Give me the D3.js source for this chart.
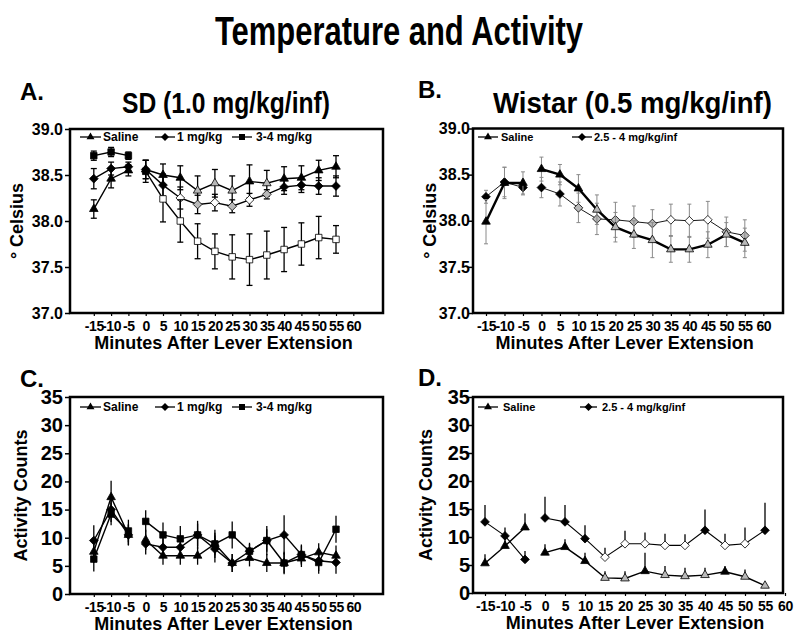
<!DOCTYPE html>
<html>
<head>
<meta charset="utf-8">
<script src="https://cdn.jsdelivr.net/npm/d3@7"></script>
<style>
  body { margin: 0; background: #fff; }
  text { font-family: "Liberation Sans", Arial, sans-serif; font-weight: bold; fill: #000; }
</style>
</head>
<body>
<svg id="chart" width="800" height="638"></svg>
<script>

var minutes = [-15, -10, -5, 0, 5, 10, 15, 20, 25, 30, 35, 40, 45, 50, 55];
var xTicks = [-15, -10, -5, 0, 5, 10, 15, 20, 25, 30, 35, 40, 45, 50, 55, 60];
var tempTicks = [37.0, 37.5, 38.0, 38.5, 39.0];
var actTicks = [0, 5, 10, 15, 20, 25, 30, 35];

// sig: 0 = not different, 1 = grey marker, 2 = open marker (as in the figure)

// A. SD temperature
var sdTempSaline    = [38.13, 38.46, 38.55, 38.56, 38.50, 38.47, 38.33, 38.41, 38.33, 38.43, 38.41, 38.46, 38.47, 38.55, 38.59];
var sdTempSalineErr = [0.10, 0.10, 0.06, 0.10, 0.12, 0.13, 0.16, 0.15, 0.16, 0.18, 0.14, 0.13, 0.13, 0.11, 0.12];
var sdTempSalineSig = [0, 0, 0, 0, 0, 0, 1, 1, 1, 0, 1, 0, 0, 0, 0];
var sdTempLow       = [38.46, 38.57, 38.59, 38.56, 38.39, 38.25, 38.18, 38.20, 38.16, 38.23, 38.29, 38.37, 38.39, 38.38, 38.38];
var sdTempLowErr    = [0.11, 0.07, 0.05, 0.10, 0.12, 0.12, 0.10, 0.09, 0.07, 0.07, 0.05, 0.08, 0.08, 0.09, 0.11];
var sdTempLowSig    = [0, 0, 0, 0, 0, 2, 1, 2, 1, 2, 1, 0, 0, 0, 0];
var sdTempHigh      = [38.71, 38.75, 38.71, 38.54, 38.24, 38.00, 37.78, 37.67, 37.61, 37.58, 37.63, 37.69, 37.75, 37.82, 37.80];
var sdTempHighErr   = [0.05, 0.05, 0.04, 0.12, 0.25, 0.23, 0.19, 0.19, 0.24, 0.28, 0.26, 0.24, 0.23, 0.23, 0.15];
var sdTempHighSig   = [0, 0, 0, 0, 2, 2, 2, 2, 2, 2, 2, 2, 2, 2, 2];

// B. Wistar temperature
var wiTempSaline    = [37.99, 38.41, 38.41, 38.56, 38.50, 38.35, 38.12, 37.93, 37.85, 37.79, 37.69, 37.69, 37.74, 37.85, 37.76];
var wiTempSalineErr = [0.24, 0.17, 0.12, 0.13, 0.11, 0.15, 0.16, 0.16, 0.15, 0.19, 0.14, 0.14, 0.14, 0.13, 0.16];
var wiTempSalineSig = [0, 0, 0, 0, 0, 0, 1, 1, 1, 1, 1, 1, 1, 1, 1];
var wiTempDrug      = [38.26, 38.42, 38.36, 38.36, 38.29, 38.14, 38.02, 38.01, 37.99, 37.97, 38.01, 38.00, 38.01, 37.88, 37.84];
var wiTempDrugErr   = [0.07, 0.16, 0.08, 0.11, 0.13, 0.16, 0.17, 0.19, 0.17, 0.15, 0.17, 0.18, 0.20, 0.16, 0.17];
var wiTempDrugSig   = [0, 0, 0, 0, 0, 1, 1, 1, 1, 1, 2, 2, 2, 1, 1];

// C. SD activity
var sdActSaline     = [7.5, 17.2, 10.5, 9.6, 6.8, 6.8, 6.8, 8.9, 5.5, 6.4, 5.5, 5.5, 6.3, 7.4, 6.8];
var sdActSalineErr  = [2.0, 2.9, 1.8, 1.8, 1.6, 1.6, 1.6, 2.0, 1.6, 1.5, 1.6, 2.0, 1.5, 1.6, 1.8];
var sdActLow        = [9.5, 15.0, 10.5, 8.9, 8.3, 8.3, 10.5, 8.0, 5.5, 7.6, 9.5, 10.5, 7.0, 5.9, 5.6];
var sdActLowErr     = [2.7, 2.2, 1.9, 1.9, 1.6, 1.8, 2.0, 2.4, 1.6, 1.3, 2.0, 3.5, 1.6, 1.8, 2.0];
var sdActHigh       = [6.2, 14.2, 11.2, 12.9, 10.5, 9.8, 10.5, 8.9, 10.5, 7.6, 9.5, 5.5, 7.0, 5.6, 11.5];
var sdActHighErr    = [2.2, 2.0, 2.0, 2.0, 2.2, 2.3, 2.5, 2.5, 2.4, 1.5, 2.6, 1.8, 1.8, 2.0, 2.4];
var zeros           = [0, 0, 0, 0, 0, 0, 0, 0, 0, 0, 0, 0, 0, 0, 0];

// D. Wistar activity
var wiActSaline     = [5.3, 8.4, 11.7, 7.2, 8.2, 5.7, 2.7, 2.6, 3.9, 3.2, 3.0, 3.2, 3.8, 2.9, 1.3];
var wiActSalineErr  = [1.6, 1.9, 2.5, 1.5, 1.4, 1.5, 1.2, 1.3, 3.3, 1.6, 1.5, 1.3, 1.0, 1.3, 0.6];
var wiActSalineSig  = [0, 0, 0, 0, 0, 0, 1, 1, 0, 1, 1, 1, 0, 1, 1];
var wiActDrug       = [12.7, 10.2, 6.0, 13.4, 12.7, 9.7, 6.4, 8.8, 8.8, 8.5, 8.5, 11.2, 8.5, 8.8, 11.2];
var wiActDrugErr    = [3.0, 1.5, 1.5, 3.8, 3.0, 2.4, 1.7, 2.3, 2.0, 2.1, 2.0, 3.7, 2.1, 2.9, 4.9];
var wiActDrugSig    = [0, 0, 0, 0, 0, 0, 2, 2, 2, 2, 2, 0, 2, 2, 0];

var sdLegend = ["Saline", "1 mg/kg", "3-4 mg/kg"];
var wiLegend = ["Saline", "2.5 - 4 mg/kg/inf"];

// square diamond (d3's own diamond is tall and thin)
var symbolRhomb = {
    draw: function(ctx, size) {
        var r = Math.sqrt(size / 2);
        ctx.moveTo(0, -r);
        ctx.lineTo(r, 0);
        ctx.lineTo(0, r);
        ctx.lineTo(-r, 0);
        ctx.closePath();
    }
};

var FILLS = ["#000", "#b9b9b9", "#fff"];
var SHAPES = {tri: d3.symbolTriangle, dia: symbolRhomb, sq: d3.symbolSquare};
var SIZES = {tri: 32, dia: 38, sq: 42};

var svg = d3.select("#chart");

svg.append("text")
    .attr("x", 215).attr("y", 45)
    .attr("textLength", 368).attr("lengthAdjust", "spacingAndGlyphs")
    .style("font-size", "41px")
    .text("Temperature and Activity");

var panels = [
    {letter: "A.", lx: 20, ly: 100, sub: "SD (1.0 mg/kg/inf)", sx: 122, sw: 208,
     box: [70, 129, 383, 313], xr: [93.8, 353.3], yd: [37, 39], ticks: tempTicks, fmt: ".1f", tickFont: 16, tickPad: 2,
     ylab: "° Celsius", ylabX: 23, errMode: "both", cap: 3, errColor: "#000",
     legendY: 137, legendFont: 12,
     legend: [{lab: sdLegend[0], shape: "tri", x0: 80, x1: 101, tx: 103},
              {lab: sdLegend[1], shape: "dia", x0: 155, x1: 175, tx: 177},
              {lab: sdLegend[2], shape: "sq", x0: 232, x1: 252, tx: 256}],
     series: [{v: sdTempSaline, e: sdTempSalineErr, s: sdTempSalineSig, shape: "tri", lw: 1.4},
              {v: sdTempLow, e: sdTempLowErr, s: sdTempLowSig, shape: "dia", lw: 1.4},
              {v: sdTempHigh, e: sdTempHighErr, s: sdTempHighSig, shape: "sq", lw: 1.4}]},
    {letter: "B.", lx: 418, ly: 98, sub: "Wistar (0.5 mg/kg/inf)", sx: 493, sw: 279,
     box: [473, 128.5, 783, 313], xr: [486, 763.3], yd: [37, 39], ticks: tempTicks, fmt: ".1f", tickFont: 16, tickPad: -2,
     ylab: "° Celsius", ylabX: 436, errMode: "both", cap: 2, errColor: "#8a8a8a",
     legendY: 137, legendFont: 11,
     legend: [{lab: wiLegend[0], shape: "tri", x0: 478, x1: 498, tx: 501},
              {lab: wiLegend[1], shape: "dia", x0: 572, x1: 592, tx: 594}],
     series: [{v: wiTempDrug, e: wiTempDrugErr, s: wiTempDrugSig, shape: "dia", lw: 0.9},
              {v: wiTempSaline, e: wiTempSalineErr, s: wiTempSalineSig, shape: "tri", lw: 2.4}]},
    {letter: "C.", lx: 20, ly: 387,
     box: [70, 397, 383, 594], xr: [93.8, 353.3], yd: [0, 35], ticks: actTicks, fmt: "d", tickFont: 20, tickPad: 2,
     ylab: "Activity Counts", ylabX: 27, errMode: "both", cap: 0, errColor: "#000",
     legendY: 407, legendFont: 12,
     legend: [{lab: sdLegend[0], shape: "tri", x0: 80, x1: 101, tx: 103},
              {lab: sdLegend[1], shape: "dia", x0: 155, x1: 175, tx: 177},
              {lab: sdLegend[2], shape: "sq", x0: 232, x1: 252, tx: 256}],
     series: [{v: sdActSaline, e: sdActSalineErr, s: zeros, shape: "tri", lw: 1.4},
              {v: sdActLow, e: sdActLowErr, s: zeros, shape: "dia", lw: 1.4},
              {v: sdActHigh, e: sdActHighErr, s: zeros, shape: "sq", lw: 1.4}]},
    {letter: "D.", lx: 418, ly: 386,
     box: [473, 397, 783, 593], xr: [485, 785], yd: [0, 35], ticks: actTicks, fmt: "d", tickFont: 20, tickPad: -2,
     ylab: "Activity Counts", ylabX: 432, errMode: "up", cap: 0, errColor: "#000",
     legendY: 407, legendFont: 11,
     legend: [{lab: wiLegend[0], shape: "tri", x0: 478, x1: 498, tx: 503},
              {lab: wiLegend[1], shape: "dia", x0: 580, x1: 597, tx: 602}],
     series: [{v: wiActSaline, e: wiActSalineErr, s: wiActSalineSig, shape: "tri", lw: 1.4},
              {v: wiActDrug, e: wiActDrugErr, s: wiActDrugSig, shape: "dia", lw: 1.1}]}
];

panels.forEach(drawPanel);

function drawPanel(p) {
    var b = p.box;
    var x = d3.scaleLinear().domain([-15, 60]).range(p.xr);
    var y = d3.scaleLinear().domain(p.yd).range([b[3], b[1]]);
    var g = svg.append("g");

    g.append("text")
        .attr("x", p.lx).attr("y", p.ly)
        .style("font-size", "24px")
        .text(p.letter);

    if (p.sub) {
        g.append("text")
            .attr("x", p.sx).attr("y", 113)
            .attr("textLength", p.sw).attr("lengthAdjust", "spacingAndGlyphs")
            .style("font-size", "29px")
            .text(p.sub);
    }

    // y axis
    var ya = g.append("g")
        .attr("transform", "translate(" + b[0] + ",0)")
        .call(d3.axisLeft(y).tickValues(p.ticks).tickFormat(d3.format(p.fmt)).tickSize(5).tickPadding(p.tickPad));
    ya.select(".domain").remove();
    ya.selectAll("line").attr("stroke-width", 1.5);
    ya.selectAll("text")
        .style("font-size", p.tickFont + "px")
        .attr("font-family", null).attr("fill", null);

    // x axis, plain hyphen for negatives like the original
    var xa = g.append("g")
        .attr("transform", "translate(0," + b[3] + ")")
        .call(d3.axisBottom(x).tickValues(xTicks).tickFormat(function(d) { return String(d); })
            .tickSize(3).tickPadding(5));
    xa.select(".domain").remove();
    xa.selectAll("line").attr("stroke-width", 1.2);
    xa.selectAll("text")
        .style("font-size", "14px")
        .style("letter-spacing", "-0.4px")
        .attr("font-family", null).attr("fill", null);

    g.append("text")
        .attr("x", (p.xr[0] + p.xr[1]) / 2).attr("y", b[3] + 36)
        .attr("text-anchor", "middle")
        .style("font-size", "18px")
        .text("Minutes After Lever Extension");

    g.append("text")
        .attr("transform", "translate(" + p.ylabX + "," + ((b[1] + b[3]) / 2) + ") rotate(-90)")
        .attr("text-anchor", "middle")
        .style("font-size", "18px")
        .text(p.ylab);

    // series
    p.series.forEach(function(s) {
        var pts = minutes.map(function(m, i) {
            return {m: m, v: s.v[i], e: s.e[i], sig: s.s[i]};
        });

        // error bars
        var eb = g.append("g")
            .attr("stroke", p.errColor)
            .attr("stroke-width", p.errColor == "#000" ? 1.3 : 1);
        pts.forEach(function(d) {
            var lo = p.errMode == "up" ? d.v : d.v - d.e;
            var hi = d.v + d.e;
            eb.append("line")
                .attr("x1", x(d.m)).attr("x2", x(d.m))
                .attr("y1", y(lo)).attr("y2", y(hi));
            if (p.cap) {
                [hi, lo].forEach(function(t) {
                    eb.append("line")
                        .attr("x1", x(d.m) - p.cap).attr("x2", x(d.m) + p.cap)
                        .attr("y1", y(t)).attr("y2", y(t));
                });
            }
        });

        // line, broken between baseline and lever extension
        var line = d3.line()
            .x(function(d) { return x(d.m); })
            .y(function(d) { return y(d.v); });
        var pre = pts.filter(function(d) { return d.m < 0; });
        var post = pts.filter(function(d) { return d.m >= 0; });
        [pre, post].forEach(function(seg) {
            g.append("path")
                .datum(seg)
                .attr("fill", "none")
                .attr("stroke", "#000")
                .attr("stroke-width", s.lw)
                .attr("d", line);
        });

        g.append("g").selectAll("path")
            .data(pts)
            .enter()
            .append("path")
            .attr("transform", function(d) { return "translate(" + x(d.m) + "," + y(d.v) + ")"; })
            .attr("d", d3.symbol().type(SHAPES[s.shape]).size(SIZES[s.shape]))
            .attr("fill", function(d) { return FILLS[d.sig]; })
            .attr("stroke", "#000")
            .attr("stroke-width", 0.8);
    });

    // legend
    p.legend.forEach(function(l) {
        g.append("line")
            .attr("x1", l.x0).attr("x2", l.x1)
            .attr("y1", p.legendY).attr("y2", p.legendY)
            .attr("stroke", "#000").attr("stroke-width", 1.3);
        g.append("path")
            .attr("transform", "translate(" + ((l.x0 + l.x1) / 2) + "," + p.legendY + ")")
            .attr("d", d3.symbol().type(SHAPES[l.shape]).size(SIZES[l.shape] * 0.85));
        g.append("text")
            .attr("x", l.tx).attr("y", p.legendY + 4)
            .style("font-size", p.legendFont + "px")
            .text(l.lab);
    });

    // frame
    g.append("rect")
        .attr("x", b[0]).attr("y", b[1])
        .attr("width", b[2] - b[0]).attr("height", b[3] - b[1])
        .attr("fill", "none")
        .attr("stroke", "#000")
        .attr("stroke-width", 2.5);
}
</script>
</body>
</html>
